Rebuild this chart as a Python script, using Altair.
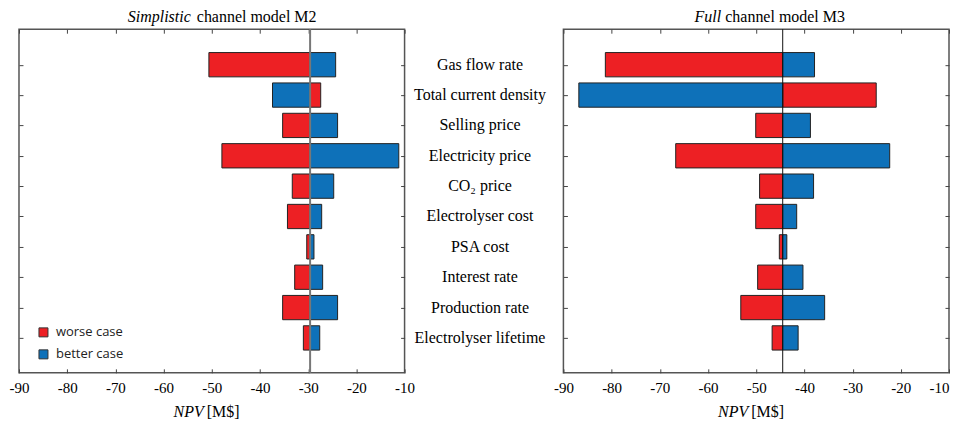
import altair as alt
import pandas as pd

factors = ["Gas flow rate", "Total current density", "Selling price", "Electricity price",
           "CO\u2082 price", "Electrolyser cost", "PSA cost", "Interest rate",
           "Production rate", "Electrolyser lifetime"]
rows = list(range(1, 11))
cases = ["worse case", "better case"]
x_ticks = [-90, -80, -70, -60, -50, -40, -30, -20, -10]

m2_base = -29.6
m2_worse = [-50.6, -27.4, -35.3, -47.9, -33.3, -34.3, -30.3, -32.8, -35.3, -31.0]
m2_better = [-24.3, -37.4, -23.9, -11.2, -24.7, -27.2, -28.8, -27.0, -23.9, -27.6]

m3_base = -44.5
m3_worse = [-81.3, -25.1, -50.1, -66.7, -49.3, -50.1, -45.2, -49.7, -53.2, -46.7]
m3_better = [-37.9, -86.8, -38.75, -22.3, -38.1, -41.6, -43.65, -40.3, -35.8, -41.3]

RED = "#ED2024"
BLUE = "#0E71B9"
SERIF = "Liberation Serif"
W, H = 386, 344
XD = [-90, -10]
YD = [-0.17, 11.15]


def px_x(p):
    return XD[0] + p * (XD[1] - XD[0]) / W


def px_y(p):
    return YD[0] + p * (YD[1] - YD[0]) / H


def tick_axis(orient, values, labels=False, flush_last=False):
    kw = dict(orient=orient, values=values, labels=labels, domain=False, grid=False,
              ticks=True, tickSize=4, offset=-4, tickColor="#444", tickWidth=1, title=None)
    if labels:
        kw.update(labelFont=SERIF, labelFontSize=15, labelColor="black", labelPadding=8,
                  labelFlush=False, labelExpr="'' + datum.value")
        if flush_last:
            kw["labelAlign"] = alt.condition("datum.value == -10", alt.value("right"),
                                             alt.value("center"))
    return alt.Axis(**kw)


def panel(worse, better, base, title_it, title_rest, base_color, base_width, legend, labels):
    df = pd.DataFrame({
        "row": rows * 2,
        "factor": factors * 2,
        "case": [cases[0]] * 10 + [cases[1]] * 10,
        "value": worse + better,
        "base": [base] * 20,
    })
    xs = alt.Scale(domain=XD, nice=False, zero=False)
    ys = alt.Scale(domain=YD, reverse=True, nice=False, zero=False)

    if legend:
        leg = alt.Legend(orient="none", legendX=18, legendY=297, title=None,
                         symbolType="square", symbolSize=81, symbolStrokeColor="#333",
                         symbolStrokeWidth=1, labelFont="Open Sans", labelFontSize=13,
                         labelColor="#222", rowPadding=8, labelOffset=6, padding=0)
    else:
        leg = None

    bars = alt.Chart(df).transform_calculate(
        y0="datum.row - 0.4", y1="datum.row + 0.4"
    ).mark_bar(stroke="#222", strokeWidth=1).encode(
        x=alt.X("value:Q", scale=xs,
                axis=tick_axis("bottom", x_ticks, labels=True, flush_last=not labels)),
        x2="base:Q",
        y=alt.Y("y0:Q", scale=ys, axis=tick_axis("left", rows)),
        y2="y1:Q",
        color=alt.Color("case:N", scale=alt.Scale(domain=cases, range=[RED, BLUE]), legend=leg),
    )

    rule = alt.Chart(pd.DataFrame({"base": [base]})).mark_rule(
        color=base_color, strokeWidth=base_width
    ).encode(x=alt.X("base:Q", scale=xs, axis=tick_axis("top", x_ticks)))

    right_ticks = alt.Chart(pd.DataFrame({"row": rows})).mark_point(opacity=0).encode(
        x=alt.XDatum(XD[0], scale=xs, axis=None),
        y=alt.Y("row:Q", scale=ys, axis=tick_axis("right", rows)),
    )

    def txt(text, px, py, align, italic=False):
        kw = dict(font=SERIF, fontSize=16, align=align, baseline="alphabetic", color="black")
        if italic:
            kw["fontStyle"] = "italic"
        return alt.Chart(pd.DataFrame({"t": [text]})).mark_text(**kw).encode(
            x=alt.XDatum(px_x(px), scale=xs, axis=None),
            y=alt.YDatum(px_y(py), scale=ys, axis=None),
            text="t:N",
        )

    layers = [bars, rule, right_ticks,
              txt(title_it[0], title_it[1], -7, "right", True),
              txt(title_rest[0], title_rest[1], -7, "left"),
              txt("NPV", 185, 388, "right", True),
              txt("[M$]", 188, 388, "left")]
    if labels:
        lab = alt.Chart(pd.DataFrame({"row": rows, "factor": factors})).mark_text(
            font=SERIF, fontSize=16, align="center", baseline="middle", color="black"
        ).encode(
            x=alt.XDatum(px_x(W + 75.5), scale=xs, axis=None),
            y=alt.Y("row:Q", scale=ys, axis=None),
            text="factor:N",
        )
        layers.append(lab)

    return alt.layer(*layers).resolve_axis(x="independent", y="independent").properties(
        width=W, height=H)


left = panel(m2_worse, m2_better, m2_base, ("Simplistic", 172), ("channel model M2", 178),
             "#777", 2, True, True)
right = panel(m3_worse, m3_better, m3_base, ("Full", 158), ("channel model M3", 162),
              "#111", 1, False, False)

chart = alt.hconcat(
    left, right, spacing=159, bounds="flush",
    padding={"left": 0, "right": 0, "top": 0, "bottom": 0},
).resolve_scale(color="independent").resolve_legend(color="independent").configure_view(
    stroke="#555", strokeWidth=1.5
)

chart.save("out.html", embed_options={"renderer": "svg", "actions": False})
